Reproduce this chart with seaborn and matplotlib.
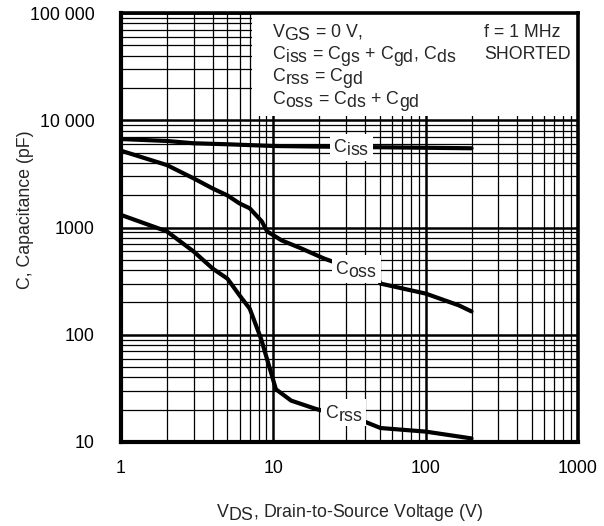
import matplotlib
matplotlib.use('Agg')
import matplotlib.pyplot as plt
import seaborn as sns
import pandas as pd
from matplotlib.patches import Rectangle
from matplotlib.ticker import LogLocator, NullFormatter

try:
    import matplotlib._mathtext as _mt
    _mt.SHRINK_FACTOR = 1.0
except Exception:
    pass

# ---- data ----
ciss_v = [1, 2, 3, 5, 10, 20, 50, 100, 200]
ciss_c = [6680, 6410, 6100, 5970, 5755, 5680, 5600, 5540, 5480]

coss_v = [1, 2, 3, 4, 5, 6, 7, 8.4, 9.1, 10.1, 11.3, 15.3, 21.6, 48.6, 50.5, 100, 165, 200]
coss_c = [5200, 3820, 2870, 2310, 1990, 1676, 1510, 1140, 920, 840, 760, 637, 513, 339, 300, 242, 188, 165]

crss_v = [1, 2, 3, 4, 5, 6, 7, 8.3, 10.4, 13.1, 19.1, 38.4, 50.5, 100, 200]
crss_c = [1310, 920, 597, 414, 333, 233, 175, 92, 31, 24.3, 20.3, 15.8, 13.5, 12.5, 10.8]

x_ticks = [1, 10, 100, 1000]
x_tick_labels = ["1", "10", "100", "1000"]
y_ticks = [10, 100, 1000, 10000, 100000]
y_tick_labels = ["10", "100", "1000", "10 000", "100 000"]

curve_names = ["Ciss", "Coss", "Crss"]

rows = []
for name, vs, cs in zip(curve_names, [ciss_v, coss_v, crss_v], [ciss_c, coss_c, crss_c]):
    for v, c in zip(vs, cs):
        rows.append({"V": v, "C": c, "curve": name})
df = pd.DataFrame(rows)

sns.set_style("white")
plt.rcParams['font.family'] = ['Liberation Sans', 'DejaVu Sans']
plt.rcParams['mathtext.fontset'] = 'custom'
plt.rcParams['mathtext.rm'] = 'Liberation Sans'
plt.rcParams['mathtext.it'] = 'Liberation Sans'
plt.rcParams['mathtext.bf'] = 'Liberation Sans:bold'

FS = 12.8
fig = plt.figure(figsize=(6.04, 5.26), dpi=100)
ax = fig.add_axes([121 / 604, 1 - 442 / 526, 457 / 604, 429 / 526])

sns.lineplot(data=df, x="V", y="C", hue="curve", units="curve", estimator=None,
             sort=False, palette=["black"] * 3, legend=False, linewidth=3.0,
             ax=ax, zorder=3)

ax.set_xscale('log')
ax.set_yscale('log')
ax.set_xlim(1, 1000)
ax.set_ylim(10, 100000)

ax.set_xticks(x_ticks)
ax.set_xticklabels(x_tick_labels)
ax.set_yticks(y_ticks)
ax.set_yticklabels(y_tick_labels)
ax.xaxis.set_minor_locator(LogLocator(base=10, subs=range(2, 10), numticks=20))
ax.yaxis.set_minor_locator(LogLocator(base=10, subs=range(2, 10), numticks=20))
ax.xaxis.set_minor_formatter(NullFormatter())
ax.yaxis.set_minor_formatter(NullFormatter())
ax.tick_params(axis='both', which='both', length=0, labelsize=FS, colors='black')
ax.tick_params(axis='x', which='major', pad=13)
ax.tick_params(axis='y', which='major', pad=19)

ax.set_axisbelow(True)
ax.grid(which='major', color='black', linewidth=1.8)
ax.grid(which='minor', color='black', linewidth=0.9)

for s in ax.spines.values():
    s.set_color('black')
    s.set_linewidth(2.6)
ax.spines['left'].set_linewidth(3.0)
ax.spines['bottom'].set_linewidth(3.0)

# white info box at top-right
ax.add_patch(Rectangle((7.25, 10900), 1000 - 7.25, 100000 - 10900,
                       facecolor='white', edgecolor='none', zorder=1))

tx = (272 - 121) / 457
lines = [r"$\mathregular{V_{GS}}$ = 0 V,",
         r"$\mathregular{C_{iss}}$ = $\mathregular{C_{gs}}$ + $\mathregular{C_{gd}}$, $\mathregular{C_{ds}}$",
         r"$\mathregular{C_{rss}}$ = $\mathregular{C_{gd}}$",
         r"$\mathregular{C_{oss}}$ = $\mathregular{C_{ds}}$ + $\mathregular{C_{gd}}$"]
ys = [0.9440, 0.8925, 0.8410, 0.7870]
for s, y in zip(lines, ys):
    ax.text(tx, y, s, transform=ax.transAxes, fontsize=FS, va='baseline', ha='left', zorder=6)
fx = (484 - 121) / 457
ax.text(fx, 0.9440, "f = 1 MHz", transform=ax.transAxes, fontsize=FS, va='baseline', ha='left', zorder=6)
ax.text(fx, 0.8925, "SHORTED", transform=ax.transAxes, fontsize=FS, va='baseline', ha='left', zorder=6)

# curve labels
bb = dict(facecolor='white', edgecolor='none', pad=2.5)
ax.text(32.5, 5600, r"$\mathregular{C_{iss}}$", fontsize=FS, ha='center', va='center', bbox=bb, zorder=5)
ax.text(35.0, 410, r"$\mathregular{C_{oss}}$", fontsize=FS, ha='center', va='center', bbox=bb, zorder=5)
ax.text(29.0, 18.7, r"$\mathregular{C_{rss}}$", fontsize=FS, ha='center', va='center', bbox=bb, zorder=5)

ax.set_xlabel(r"$\mathregular{V_{DS}}$, Drain-to-Source Voltage (V)", fontsize=FS)
ax.set_ylabel("C, Capacitance (pF)", fontsize=FS)
ax.xaxis.set_label_coords(0.5, -0.14)
ax.yaxis.set_label_coords(-0.19, 0.541)

fig.savefig("out.png", dpi=100)
